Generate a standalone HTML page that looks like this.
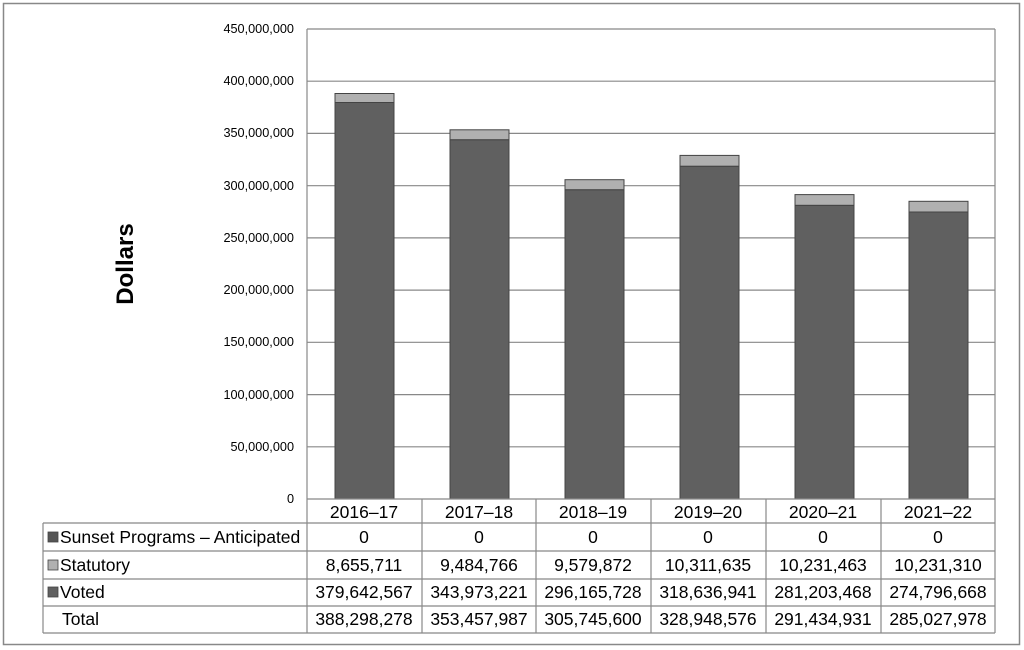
<!DOCTYPE html>
<html><head><meta charset="utf-8"><style>
body{margin:0;background:#fff}
svg{display:block;font-family:"Liberation Sans",sans-serif}
</style></head><body>
<svg width="1024" height="650" xmlns="http://www.w3.org/2000/svg">
<rect x="3.5" y="3.5" width="1016" height="641" fill="#fff" stroke="#888" stroke-width="1.5"/>
<g stroke="#888" stroke-width="1.2">
<line x1="307" y1="29" x2="995" y2="29"/>
<line x1="307" y1="81.2" x2="995" y2="81.2"/>
<line x1="307" y1="133.4" x2="995" y2="133.4"/>
<line x1="307" y1="185.7" x2="995" y2="185.7"/>
<line x1="307" y1="237.9" x2="995" y2="237.9"/>
<line x1="307" y1="290.1" x2="995" y2="290.1"/>
<line x1="307" y1="342.3" x2="995" y2="342.3"/>
<line x1="307" y1="394.6" x2="995" y2="394.6"/>
<line x1="307" y1="446.8" x2="995" y2="446.8"/>
<line x1="307" y1="29" x2="307" y2="499"/>
<line x1="995" y1="29" x2="995" y2="499"/>
</g>
<g font-size="12.7" fill="#000" text-anchor="end">
<text x="294" y="33">450,000,000</text>
<text x="294" y="85">400,000,000</text>
<text x="294" y="137">350,000,000</text>
<text x="294" y="190">300,000,000</text>
<text x="294" y="242">250,000,000</text>
<text x="294" y="294">200,000,000</text>
<text x="294" y="346">150,000,000</text>
<text x="294" y="399">100,000,000</text>
<text x="294" y="451">50,000,000</text>
<text x="294" y="503">0</text>
</g>
<text transform="translate(133,264) rotate(-90)" font-size="24" font-weight="bold" text-anchor="middle">Dollars</text>
<g stroke="#444" stroke-width="1">
<rect x="335" y="102.5" width="59" height="396.5" fill="#606060"/><rect x="335" y="93.5" width="59" height="9" fill="#b0b0b0"/>
<rect x="450" y="139.7" width="59" height="359.3" fill="#606060"/><rect x="450" y="129.8" width="59" height="9.9" fill="#b0b0b0"/>
<rect x="565" y="189.7" width="59" height="309.3" fill="#606060"/><rect x="565" y="179.7" width="59" height="10" fill="#b0b0b0"/>
<rect x="680" y="166.2" width="59" height="332.8" fill="#606060"/><rect x="680" y="155.4" width="59" height="10.8" fill="#b0b0b0"/>
<rect x="795" y="205.3" width="59" height="293.7" fill="#606060"/><rect x="795" y="194.6" width="59" height="10.7" fill="#b0b0b0"/>
<rect x="909" y="212" width="59" height="287" fill="#606060"/><rect x="909" y="201.3" width="59" height="10.7" fill="#b0b0b0"/>
</g>
<g stroke="#888" stroke-width="1.2" fill="none">
<line x1="307" y1="499" x2="995" y2="499"/>
<line x1="43" y1="523" x2="995" y2="523"/>
<line x1="43" y1="551" x2="995" y2="551"/>
<line x1="43" y1="579" x2="995" y2="579"/>
<line x1="43" y1="606" x2="995" y2="606"/>
<line x1="43" y1="633" x2="995" y2="633"/>
<line x1="43" y1="523" x2="43" y2="633"/>
<line x1="307" y1="499" x2="307" y2="633"/>
<line x1="422" y1="499" x2="422" y2="633"/>
<line x1="536" y1="499" x2="536" y2="633"/>
<line x1="651" y1="499" x2="651" y2="633"/>
<line x1="766" y1="499" x2="766" y2="633"/>
<line x1="881" y1="499" x2="881" y2="633"/>
<line x1="995" y1="499" x2="995" y2="633"/>
</g>
<g stroke="#444" stroke-width="0.8">
<rect x="48" y="532" width="10" height="10" fill="#555"/>
<rect x="48" y="560" width="10" height="10" fill="#b0b0b0"/>
<rect x="48" y="587" width="10" height="10" fill="#606060"/>
</g>
<g font-size="17.5" fill="#000">
<text x="60" y="543">Sunset Programs – Anticipated</text>
<text x="60" y="571">Statutory</text>
<text x="60" y="598">Voted</text>
<text x="62" y="625">Total</text>
</g>
<g font-size="17.5" fill="#000" text-anchor="middle">
<text x="364" y="518">2016–17</text><text x="479" y="518">2017–18</text><text x="593" y="518">2018–19</text><text x="708" y="518">2019–20</text><text x="823" y="518">2020–21</text><text x="938" y="518">2021–22</text>
<text x="364" y="543">0</text><text x="479" y="543">0</text><text x="593" y="543">0</text><text x="708" y="543">0</text><text x="823" y="543">0</text><text x="938" y="543">0</text>
<text x="364" y="571">8,655,711</text><text x="479" y="571">9,484,766</text><text x="593" y="571">9,579,872</text><text x="708" y="571">10,311,635</text><text x="823" y="571">10,231,463</text><text x="938" y="571">10,231,310</text>
<text x="364" y="598">379,642,567</text><text x="479" y="598">343,973,221</text><text x="593" y="598">296,165,728</text><text x="708" y="598">318,636,941</text><text x="823" y="598">281,203,468</text><text x="938" y="598">274,796,668</text>
<text x="364" y="625">388,298,278</text><text x="479" y="625">353,457,987</text><text x="593" y="625">305,745,600</text><text x="708" y="625">328,948,576</text><text x="823" y="625">291,434,931</text><text x="938" y="625">285,027,978</text>
</g>
</svg>
</body></html>
